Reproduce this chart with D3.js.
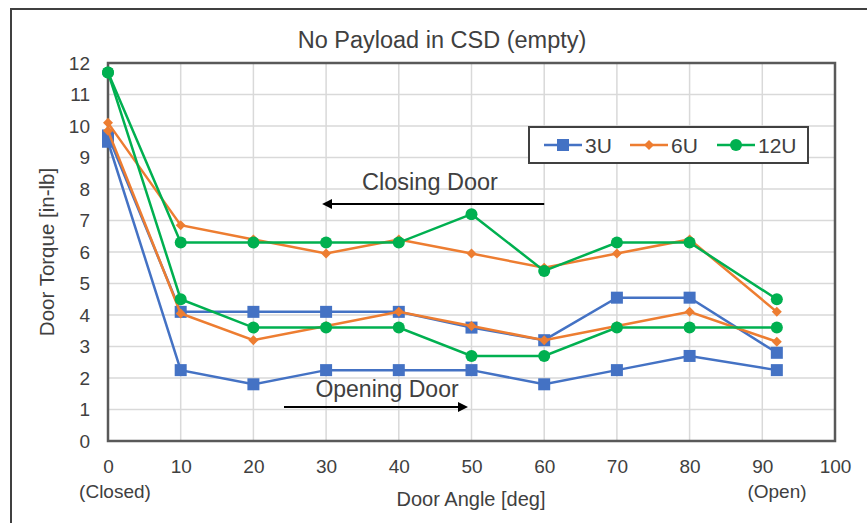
<!DOCTYPE html>
<meta charset="utf-8">
<script src="https://d3js.org/d3.v7.min.js"></script>
<style>
  body { margin: 0; background: #fff; }
  text { font-family: "Liberation Sans", Arial, sans-serif; fill: #404040; }
</style>
<div id="chart"></div>
<script>
// door angle of every measurement [deg]
var angles = [0, 10, 20, 30, 40, 50, 60, 70, 80, 92];

// door torque [in-lb], two runs per CubeSat size
var torque3U_a  = [9.7, 4.1, 4.1, 4.1, 4.1, 3.6, 3.2, 4.55, 4.55, 2.8];
var torque3U_b  = [9.5, 2.25, 1.8, 2.25, 2.25, 2.25, 1.8, 2.25, 2.7, 2.25];
var torque6U_a  = [10.1, 6.85, 6.4, 5.95, 6.4, 5.95, 5.5, 5.95, 6.4, 4.1];
var torque6U_b  = [9.85, 4.05, 3.2, 3.65, 4.1, 3.65, 3.2, 3.65, 4.1, 3.15];
var torque12U_a = [11.7, 6.3, 6.3, 6.3, 6.3, 7.2, 5.4, 6.3, 6.3, 4.5];
var torque12U_b = [11.7, 4.5, 3.6, 3.6, 3.6, 2.7, 2.7, 3.6, 3.6, 3.6];

var xTicks = [0, 10, 20, 30, 40, 50, 60, 70, 80, 90, 100];
var yTicks = [0, 1, 2, 3, 4, 5, 6, 7, 8, 9, 10, 11, 12];

var series = [
  {name: "3U",  color: "#4472c4", marker: "square",  runs: [torque3U_a, torque3U_b]},
  {name: "6U",  color: "#ed7d31", marker: "diamond", runs: [torque6U_a, torque6U_b]},
  {name: "12U", color: "#00b050", marker: "circle",  runs: [torque12U_a, torque12U_b]}
];

var width = 867, height = 523;

var svg = d3.select("#chart")
  .append("svg")
    .attr("width", width)
    .attr("height", height);

// outer chart frame (cut off on the right and bottom)
svg.append("path")
  .attr("d", "M11,523V9H867")
  .attr("fill", "none")
  .attr("stroke", "#404040")
  .attr("stroke-width", 2);

var x = d3.scaleLinear().domain([0, 100]).range([108, 835]);
var y = d3.scaleLinear().domain([0, 12]).range([441, 63]);

// grid
svg.append("g")
  .selectAll("line")
  .data(yTicks)
  .enter().append("line")
    .attr("x1", x(0)).attr("x2", x(100))
    .attr("y1", function(d) { return y(d); })
    .attr("y2", function(d) { return y(d); })
    .attr("stroke", "#d9d9d9")
    .attr("stroke-width", 1.5);

svg.append("g")
  .selectAll("line")
  .data(xTicks)
  .enter().append("line")
    .attr("x1", function(d) { return x(d); })
    .attr("x2", function(d) { return x(d); })
    .attr("y1", y(0)).attr("y2", y(12))
    .attr("stroke", "#d9d9d9")
    .attr("stroke-width", 1.5);

// plot frame
svg.append("rect")
  .attr("x", x(0)).attr("y", y(12))
  .attr("width", x(100) - x(0))
  .attr("height", y(0) - y(12))
  .attr("fill", "none")
  .attr("stroke", "#595959")
  .attr("stroke-width", 2.5);

// axes (labels only)
var xAxis = svg.append("g")
  .attr("transform", "translate(0," + y(0) + ")")
  .call(d3.axisBottom(x).tickValues(xTicks).tickSize(0).tickPadding(19));
var yAxis = svg.append("g")
  .attr("transform", "translate(" + x(0) + ",0)")
  .call(d3.axisLeft(y).tickValues(yTicks).tickSize(0).tickPadding(18));
[xAxis, yAxis].forEach(function(a) {
  a.select(".domain").remove();
  a.selectAll("text")
    .style("font-family", "'Liberation Sans', Arial, sans-serif")
    .style("font-size", "19px")
    .style("fill", "#404040");
});

// markers
function drawMarker(g, type, color, cx, cy) {
  if (type == "square") {
    g.append("rect")
      .attr("x", cx - 6).attr("y", cy - 6)
      .attr("width", 12).attr("height", 12)
      .attr("fill", color);
  } else if (type == "diamond") {
    g.append("path")
      .attr("d", "M" + cx + "," + (cy - 5) + "l5,5l-5,5l-5,-5z")
      .attr("fill", color);
  } else {
    g.append("circle")
      .attr("cx", cx).attr("cy", cy).attr("r", 6)
      .attr("fill", color);
  }
}

var line = d3.line()
  .x(function(d, i) { return x(angles[i]); })
  .y(function(d) { return y(d); });

series.forEach(function(s) {
  var g = svg.append("g");
  s.runs.forEach(function(run) {
    g.append("path")
      .datum(run)
      .attr("d", line)
      .attr("fill", "none")
      .attr("stroke", s.color)
      .attr("stroke-width", 2.5);
    run.forEach(function(v, i) {
      drawMarker(g, s.marker, s.color, x(angles[i]), y(v));
    });
  });
});

// legend
var legend = svg.append("g");
legend.append("rect")
  .attr("x", 529).attr("y", 127)
  .attr("width", 279).attr("height", 36)
  .attr("fill", "#fff")
  .attr("stroke", "#404040")
  .attr("stroke-width", 2);
var legendX = [544, 630, 717];
series.forEach(function(s, i) {
  var lx = legendX[i];
  legend.append("line")
    .attr("x1", lx).attr("x2", lx + 38)
    .attr("y1", 145).attr("y2", 145)
    .attr("stroke", s.color)
    .attr("stroke-width", 2.5);
  drawMarker(legend, s.marker, s.color, lx + 19, 145);
  legend.append("text")
    .attr("x", lx + 41).attr("y", 145)
    .attr("dy", "0.36em")
    .style("font-size", "21px")
    .text(s.name);
});

// arrow heads
var defs = svg.append("defs");
defs.append("marker")
  .attr("id", "arrow")
  .attr("viewBox", "0 0 10 10")
  .attr("refX", 8).attr("refY", 5)
  .attr("markerWidth", 5).attr("markerHeight", 5)
  .attr("orient", "auto")
  .append("path")
    .attr("d", "M0,0L10,5L0,10z")
    .attr("fill", "#000");

// closing / opening annotations
svg.append("line")
  .attr("x1", x(60)).attr("x2", x(30) - 2)
  .attr("y1", 204).attr("y2", 204)
  .attr("stroke", "#000").attr("stroke-width", 2)
  .attr("marker-end", "url(#arrow)");
svg.append("text")
  .attr("x", 430).attr("y", 182).attr("dy", "0.36em")
  .attr("text-anchor", "middle")
  .style("font-size", "23.5px")
  .text("Closing Door");

svg.append("line")
  .attr("x1", 284).attr("x2", 466)
  .attr("y1", 407).attr("y2", 407)
  .attr("stroke", "#000").attr("stroke-width", 2)
  .attr("marker-end", "url(#arrow)");
svg.append("text")
  .attr("x", 387).attr("y", 389).attr("dy", "0.36em")
  .attr("text-anchor", "middle")
  .style("font-size", "23px")
  .text("Opening Door");

// titles
svg.append("text")
  .attr("x", 442).attr("y", 40).attr("dy", "0.36em")
  .attr("text-anchor", "middle")
  .style("font-size", "23.5px")
  .text("No Payload in CSD (empty)");

svg.append("text")
  .attr("x", 471).attr("y", 499).attr("dy", "0.36em")
  .attr("text-anchor", "middle")
  .style("font-size", "20px")
  .text("Door Angle  [deg]");

svg.append("text")
  .attr("transform", "translate(47,252) rotate(-90)")
  .attr("dy", "0.36em")
  .attr("text-anchor", "middle")
  .style("font-size", "20.5px")
  .text("Door Torque  [in-lb]");

svg.append("text")
  .attr("x", x(0) + 7).attr("y", 491).attr("dy", "0.36em")
  .attr("text-anchor", "middle")
  .style("font-size", "19px")
  .text("(Closed)");
svg.append("text")
  .attr("x", 777).attr("y", 491).attr("dy", "0.36em")
  .attr("text-anchor", "middle")
  .style("font-size", "19px")
  .text("(Open)");
</script>
